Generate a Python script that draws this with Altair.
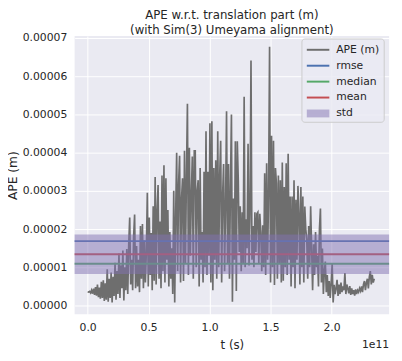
import altair as alt
import numpy as np
import pandas as pd

# ---------------- data ----------------
# time of the samples, in units of 1e11 s (axis shows the "1e11" offset)
t_first = 0.0
t_last = 2.35

# APE values in units of 1e-5 m, one per sample
ape_e5 = [
    0.36, 0.35, 0.37, 0.33, 0.40, 0.31, 0.44, 0.28, 0.48, 0.26,
    0.55, 0.22, 0.47, 0.18, 0.62, 0.20, 0.66, 0.12, 0.58, 0.15,
    0.95, 0.10, 0.70, 0.20, 0.86, 0.08, 0.75, 0.25, 1.12, 0.15,
    0.90, 0.30, 1.36, 0.20, 1.05, 0.45, 1.44, 0.13, 1.00, 0.40,
    1.48, 0.30, 1.60, 2.30, 0.55, 1.20, 0.40, 1.80, 2.38, 0.45,
    1.56, 0.50, 1.20, 0.35, 2.08, 0.70, 2.13, 0.45, 1.70, 0.60,
    1.40, 2.95, 0.50, 2.30, 0.80, 1.90, 0.40, 2.60, 0.65, 3.36,
    0.55, 2.50, 3.15, 0.70, 2.20, 0.45, 3.40, 0.90, 3.67, 0.60,
    3.33, 1.20, 2.50, 0.50, 1.92, 0.70, 1.50, 0.30, 3.00, 0.08,
    2.40, 4.00, 0.90, 3.20, 3.92, 0.60, 2.80, 3.33, 0.64, 4.05,
    1.10, 3.40, 5.28, 0.80, 4.13, 1.30, 2.90, 3.90, 0.70, 4.05,
    4.05, 1.00, 3.00, 3.28, 0.50, 3.60, 1.20, 1.92, 0.60, 3.50,
    1.00, 4.56, 0.80, 3.50, 1.30, 4.77, 0.60, 4.82, 0.40, 3.60,
    1.20, 3.80, 0.70, 4.56, 1.00, 3.40, 4.31, 0.60, 2.90, 3.70,
    0.90, 2.60, 5.08, 1.10, 3.70, 0.70, 3.10, 5.00, 0.10, 2.80,
    1.20, 4.30, 0.38, 4.30, 3.28, 1.40, 2.60, 0.90, 2.44, 1.10,
    5.46, 1.00, 2.26, 1.50, 4.23, 1.05, 2.40, 6.41, 1.20, 2.08,
    1.00, 2.44, 1.40, 2.40, 2.44, 1.10, 2.40, 1.92, 0.90, 2.10,
    1.00, 3.46, 0.80, 3.72, 1.20, 3.00, 6.77, 0.60, 4.44, 1.00,
    4.31, 0.54, 3.60, 3.20, 0.70, 3.40, 1.10, 3.28, 0.60, 3.74,
    0.65, 3.10, 1.00, 3.72, 0.80, 3.97, 1.20, 2.85, 0.50, 2.85,
    1.00, 3.28, 0.45, 2.77, 1.20, 3.13, 2.44, 0.55, 3.10, 1.00,
    2.85, 0.60, 2.59, 2.00, 1.74, 0.70, 2.08, 1.00, 2.60, 1.49,
    0.40, 1.60, 0.80, 1.92, 1.00, 1.30, 0.50, 2.00, 2.54, 0.60,
    1.49, 0.30, 0.90, 1.15, 0.35, 0.80, 0.25, 0.64, 0.20, 0.60,
    1.10, 0.08, 0.54, 0.30, 0.45, 0.67, 0.25, 0.55, 0.30, 0.60,
    0.35, 0.50, 0.40, 0.85, 0.30, 0.55, 0.45, 0.32, 0.51, 0.28,
    0.45, 0.30, 0.40, 0.26, 0.42, 0.30, 0.40, 0.35, 0.45, 0.38,
    0.50, 0.35, 0.55, 0.64, 0.40, 0.60, 0.70, 0.45, 0.75, 0.90,
    0.55, 0.80, 0.60, 0.70,
]

# statistics (m)
stat_names = ["rmse", "median", "mean"]
stat_values = [1.685e-5, 1.095e-5, 1.34e-5]
std_value = 1.03e-5  # drawn as mean +/- std/2

legend_labels = ["APE (m)", "rmse", "median", "mean", "std"]
legend_colors = ["#6e6e6e", "#4c72b0", "#55a868", "#c44e52", "#8172b2"]

y_ticks = [0.0, 1e-5, 2e-5, 3e-5, 4e-5, 5e-5, 6e-5, 7e-5]
x_ticks = [0.0, 0.5, 1.0, 1.5, 2.0]

# ---------------- tables ----------------
ape_df = pd.DataFrame({
    "t": np.linspace(t_first, t_last, len(ape_e5)),
    "ape": np.array(ape_e5) * 1e-5,
})
stats_df = pd.DataFrame({"name": stat_names, "value": stat_values})
mean_value = stat_values[stat_names.index("mean")]
band_df = pd.DataFrame({"lo": [mean_value - std_value / 2], "hi": [mean_value + std_value / 2]})
leg_df = pd.DataFrame({"label": legend_labels})

W, H = 321, 284
FONT = "DejaVu Sans"
TXT = "#262626"

yscale = alt.Scale(domain=[-0.0000023, 0.0000705], nice=False, zero=False)
xscale = alt.Scale(domain=[-0.107, 2.472], nice=False, zero=False)
cscale = alt.Scale(domain=legend_labels, range=legend_colors)
lyscale = alt.Scale(type="point", domain=legend_labels, range=[14, 79], padding=0)

line = alt.Chart(ape_df).mark_line(color="#6e6e6e", strokeWidth=1.7).encode(
    x=alt.X("t:Q", scale=xscale,
            axis=alt.Axis(values=x_ticks, format=".1f", title="t (s)", titlePadding=7,
                          titleFontSize=12)),
    y=alt.Y("ape:Q", scale=yscale,
            axis=alt.Axis(values=y_ticks, format=".5f", title="APE (m)", titlePadding=3,
                          titleFontSize=12.5)),
)

stat_rules = alt.Chart(stats_df).mark_rule(strokeWidth=2).encode(
    y=alt.Y("value:Q", scale=yscale, axis=None),
    x=alt.value(0), x2=alt.value(W),
    color=alt.Color("name:N", scale=cscale, legend=None),
)

band = alt.Chart(band_df).mark_rect(color="#8172b2", opacity=0.5).encode(
    y=alt.Y("lo:Q", scale=yscale, axis=None), y2="hi:Q",
    x=alt.value(0), x2=alt.value(W),
)

# legend (inside plot, top right)
leg_box = alt.Chart(pd.DataFrame({"a": [0]})).mark_rect(
    fill="#eaeaf2", fillOpacity=0.8, stroke="#cccccc", strokeWidth=1, cornerRadius=3
).encode(x=alt.value(232), x2=alt.value(316), y=alt.value(3), y2=alt.value(88))

leg_lines = alt.Chart(leg_df).transform_filter(alt.datum.label != "std").mark_rule(
    strokeWidth=2
).encode(
    x=alt.value(237), x2=alt.value(260),
    y=alt.Y("label:N", scale=lyscale, axis=None),
    color=alt.Color("label:N", scale=cscale, legend=None),
)
leg_patch = alt.Chart(leg_df).transform_filter(alt.datum.label == "std").mark_rule(
    strokeWidth=8, opacity=0.5, strokeCap="butt"
).encode(
    x=alt.value(237), x2=alt.value(260),
    y=alt.Y("label:N", scale=lyscale, axis=None),
    color=alt.Color("label:N", scale=cscale, legend=None),
)
leg_text = alt.Chart(leg_df).mark_text(
    align="left", baseline="middle", font=FONT, fontSize=11, color=TXT
).encode(
    x=alt.value(267),
    y=alt.Y("label:N", scale=lyscale, axis=None),
    text="label:N",
)

offset_text = alt.Chart(pd.DataFrame({"s": ["1e11"]})).mark_text(
    align="right", baseline="middle", font=FONT, fontSize=11, color=TXT
).encode(x=alt.value(W), y=alt.value(315), text="s:N")

chart = alt.layer(
    line, stat_rules, band, leg_box, leg_lines, leg_patch, leg_text, offset_text
).resolve_scale(y="independent").properties(
    width=W, height=H,
    autosize=alt.AutoSizeParams(type="none"),
    padding={"left": 68, "top": 25, "right": 5, "bottom": 44},
    title=alt.Title(["APE w.r.t. translation part (m)", "(with Sim(3) Umeyama alignment)"],
                    frame="group", anchor="middle", offset=-5),
    background="white",
).configure_view(
    fill="#eaeaf2", stroke=None
).configure_axis(
    domain=False, ticks=False, grid=True, gridColor="white", gridWidth=1,
    labelFont=FONT, labelFontSize=11, labelColor=TXT, labelPadding=8,
    titleFont=FONT, titleFontSize=12, titleFontWeight="normal", titleColor=TXT,
).configure_title(
    font=FONT, fontSize=12, fontWeight="normal", color=TXT, lineHeight=15
)

chart.save("out.html", embed_options={"renderer": "svg", "actions": False})
